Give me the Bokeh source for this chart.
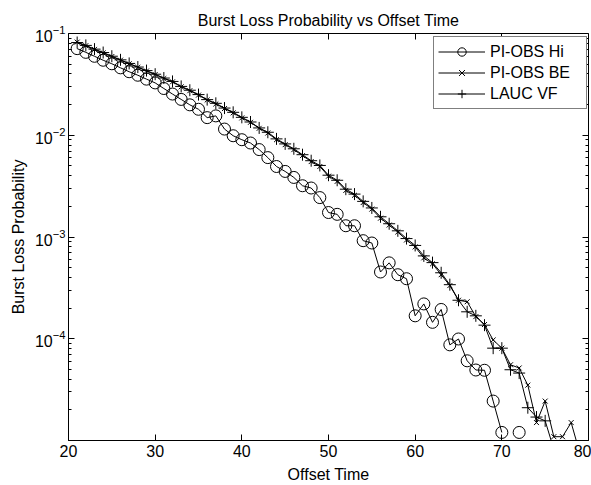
from bokeh.plotting import figure
from bokeh.models import (Range1d, LogAxis, LinearAxis, FixedTicker, Legend, LegendItem,
                          CustomJSTickFormatter)
from bokeh.embed import file_html
from bokeh.resources import INLINE

NaN = float("nan")

# ---- data ----
offset_hi = list(range(21, 73))
loss_hi = [0.0710, 0.0653, 0.0597, 0.0546, 0.0504, 0.0460, 0.0421, 0.0389, 0.0356, 0.0327,
           0.0288, 0.0254, 0.0225, 0.0199, 0.0180, 0.0149, 0.0155, 0.0115, 0.00989, 0.00904,
           0.00839, 0.00723, 0.00603, 0.00493, 0.00441, 0.00385, 0.00319, 0.00303, 0.00244, 0.00174,
           0.00167, 0.00129, 0.00129, 0.000920, 0.000873, 0.000453, 0.000557, 0.000426, 0.000389, 0.000168,
           0.000220, 0.000145, 0.000194, 0.0000871, 0.0000995, 0.0000607, 0.0000493, 0.0000490, 0.0000244, 0.0000120,
           NaN, 0.0000120]

offset_be = list(range(21, 80))
loss_be = [0.0823, 0.0759, 0.0698, 0.0644, 0.0594, 0.0547, 0.0504, 0.0465, 0.0428, 0.0395,
           0.0361, 0.0335, 0.0299, 0.0274, 0.0248, 0.0222, 0.0203, 0.0183, 0.0166, 0.0148,
           0.0134, 0.0117, 0.01051, 0.00904, 0.00808, 0.00722, 0.00631, 0.00551, 0.00493, 0.00396,
           0.00352, 0.00287, 0.00257, 0.00218, 0.00188, 0.00153, 0.00131, 0.00112, 0.000934, 0.000799,
           0.000624, 0.000545, 0.000426, 0.000333, 0.000239, 0.000231, 0.000165, 0.000138, 0.0000973, 0.0000808,
           0.0000555, 0.0000516, 0.0000350, 0.0000150, 0.0000244, 0.0000109, 0.0000109, 0.0000150, 0.0000075]

offset_lauc = list(range(21, 77))
loss_lauc = [0.0815, 0.0764, 0.0702, 0.0650, 0.0598, 0.0551, 0.0508, 0.0468, 0.0432, 0.0398,
             0.0365, 0.0338, 0.0302, 0.0277, 0.0251, 0.0224, 0.0206, 0.0185, 0.0168, 0.0150,
             0.0135, 0.0118, 0.0107, 0.00921, 0.00822, 0.00736, 0.00644, 0.00562, 0.00505, 0.00405,
             0.00361, 0.00295, 0.00264, 0.00224, 0.00193, 0.00158, 0.00135, 0.00115, 0.000965, 0.000826,
             0.000652, 0.000560, 0.000445, 0.000340, 0.000239, 0.000184, 0.000168, 0.000136, 0.0000808, 0.0000808,
             0.0000496, 0.0000460, 0.0000210, 0.0000170, 0.0000156, 0.0000082]

series_names = ["PI-OBS Hi", "PI-OBS BE", "LAUC VF"]
x_ticks = [20, 30, 40, 50, 60, 70, 80]
y_ticks = [1e-4, 1e-3, 1e-2, 1e-1]
y_minor = [m * 10.0 ** e for e in (-5, -4, -3, -2) for m in range(2, 10)]
x_limits = (20, 80)
y_limits = (1e-5, 1e-1)

FONT = "Liberation Sans"
FS = "16px"

p = figure(width=591, height=485,
           x_range=Range1d(*x_limits), y_range=Range1d(*y_limits),
           y_axis_type="log", output_backend="svg", toolbar_location=None,
           title="Burst Loss Probability vs Offset Time",
           min_border_left=68, min_border_right=3, min_border_top=33, min_border_bottom=42)

p.title.align = "center"
p.title.text_font = FONT
p.title.text_font_size = FS
p.title.text_font_style = "normal"
p.title.text_color = "black"
p.title.standoff = 10

p.xgrid.visible = False
p.ygrid.visible = False
p.outline_line_color = "black"
p.outline_line_width = 1
p.background_fill_color = "white"
p.border_fill_color = "white"


def style_axis(ax):
    ax.axis_line_color = "black"
    ax.axis_line_width = 1
    ax.major_tick_line_color = "black"
    ax.minor_tick_line_color = "black"
    ax.major_tick_in = 6
    ax.major_tick_out = 0
    ax.minor_tick_in = 3
    ax.minor_tick_out = 0
    ax.major_label_text_font = FONT
    ax.major_label_text_font_size = FS
    ax.major_label_text_color = "black"
    ax.axis_label_text_font = FONT
    ax.axis_label_text_font_size = FS
    ax.axis_label_text_font_style = "normal"
    ax.axis_label_text_color = "black"


# bottom x axis
xa = p.xaxis[0]
xa.ticker = FixedTicker(ticks=x_ticks)
xa.axis_label = "Offset Time"
style_axis(xa)
xa.minor_tick_line_color = None
xa.major_label_standoff = 4
xa.axis_label_standoff = 6

# left y axis
ya = p.yaxis[0]
ya.ticker = FixedTicker(ticks=y_ticks, minor_ticks=y_minor)
ya.axis_label = "Burst Loss Probability"
style_axis(ya)
ya.major_label_standoff = 3
ya.axis_label_standoff = 5

blank = CustomJSTickFormatter(code="return ''")

# box: top and right axes (pinned to the frame edges) with inward ticks, no labels
top = LinearAxis(ticker=FixedTicker(ticks=x_ticks), formatter=blank,
                 fixed_location=y_limits[1])
style_axis(top)
top.minor_tick_line_color = None
top.major_label_text_font_size = "1px"
p.add_layout(top, "above")

right = LogAxis(ticker=FixedTicker(ticks=y_ticks, minor_ticks=y_minor), formatter=blank,
                fixed_location=x_limits[1])
style_axis(right)
right.major_label_text_font_size = "1px"
p.add_layout(right, "right")

# series
l1 = p.line(offset_hi, loss_hi, line_color="black", line_width=1)
s1 = p.scatter(offset_hi, loss_hi, marker="circle", size=12, fill_color=None,
               line_color="black", line_width=1)
l2 = p.line(offset_be, loss_be, line_color="black", line_width=1)
s2 = p.scatter(offset_be, loss_be, marker="x", size=7, line_color="black", line_width=1)
l3 = p.line(offset_lauc, loss_lauc, line_color="black", line_width=1)
s3 = p.scatter(offset_lauc, loss_lauc, marker="cross", size=12, line_color="black", line_width=1)

legend = Legend(items=[LegendItem(label=series_names[0], renderers=[l1, s1]),
                       LegendItem(label=series_names[1], renderers=[l2, s2]),
                       LegendItem(label=series_names[2], renderers=[l3, s3])],
                location=(365, 331))
legend.label_text_font = FONT
legend.label_text_font_size = FS
legend.label_text_color = "black"
legend.glyph_width = 47
legend.glyph_height = 21
legend.label_height = 21
legend.label_width = 92
legend.label_standoff = 5
legend.spacing = 0
legend.padding = 4
legend.margin = 0
legend.border_line_color = "black"
legend.border_line_width = 1
legend.background_fill_color = "white"
legend.background_fill_alpha = 1.0
p.add_layout(legend, "center")

open("out.html", "w").write(file_html(p, INLINE))
